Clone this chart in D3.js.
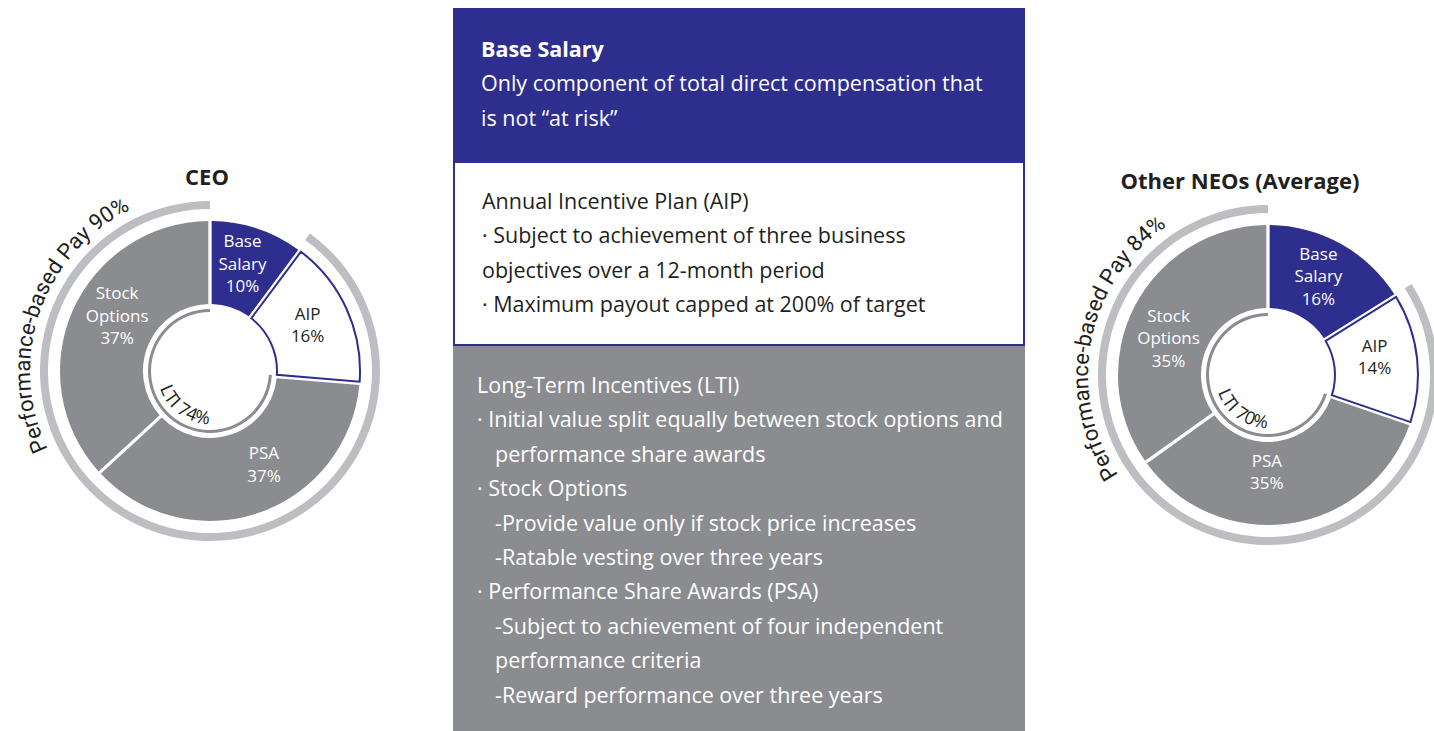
<!DOCTYPE html>
<html>
<head>
<meta charset="utf-8">
<script src="https://cdn.jsdelivr.net/npm/d3@7"></script>
<style>
  body { margin: 0; background: #fff; }
  svg text { font-family: "Open Sans", "Noto Sans", sans-serif; }
</style>
</head>
<body>
<script>
// ---- data ----
const components = ['Base Salary', 'AIP', 'PSA', 'Stock Options']
const ceoValues = [10, 16, 37, 37]
const neoValues = [16, 14, 35, 35]
const perfPay = [90, 84]
const ltiShare = [74, 70]
const titles = ['CEO', 'Other NEOs (Average)']

const salaryLines = [
  ['Base Salary', 0, true],
  ['Only component of total direct compensation that', 0],
  ['is not \u201cat risk\u201d', 0]
]
const aipLines = [
  ['Annual Incentive Plan (AIP)', 0],
  ['\u00b7 Subject to achievement of three business', 0],
  ['objectives over a 12-month period', 0],
  ['\u00b7 Maximum payout capped at 200% of target', 0]
]
const ltiLines = [
  ['Long-Term Incentives (LTI)', 0],
  ['\u00b7 Initial value split equally between stock options and', 0],
  ['performance share awards', 1],
  ['\u00b7 Stock Options', 0],
  ['-Provide value only if stock price increases', 1],
  ['-Ratable vesting over three years', 1],
  ['\u00b7 Performance Share Awards (PSA)', 0],
  ['-Subject to achievement of four independent', 1],
  ['performance criteria', 1],
  ['-Reward performance over three years', 1]
]

// ---- style / layout ----
const navy = '#2e2e8f'
const gray = '#8b8c90'
const lightGray = '#bdbec1'
const ink = '#231f20'
const width = 1434
const height = 731

const radius = { inner: 67, outer: 150, ring: 166, ringW: 8, lti: 60.5, ltiW: 3, label: 108 }
const fills = [navy, '#fff', gray, gray]
const labelColors = ['#fff', ink, '#fff', '#fff']
// small hand nudges of the slice labels (degrees, px) so they sit like the original
const labelNudge = [
  [[-1.5, 4], [-1, 0], [-11, 0], [7, 0]],
  [[-2, 3], [-3, 0], [9, -11], [-7, -2]]
]

const svg = d3.select('body').append('svg')
  .attr('width', width)
  .attr('height', height)

const angle = d3.scaleLinear().domain([0, 100]).range([0, 2 * Math.PI])
const rad = deg => deg * Math.PI / 180

function drawDonut(i, values, cx, cy, titleX, perfCenter) {
  const g = svg.append('g').attr('transform', `translate(${cx}, ${cy})`)

  const pie = d3.pie().sort(null).value(d => d).padAngle(0.02)
  const arcs = pie(values)
  const arc = d3.arc().innerRadius(radius.inner).outerRadius(radius.outer)

  g.selectAll('path.slice')
    .data(arcs)
    .join('path')
    .attr('class', 'slice')
    .attr('d', arc)
    .attr('fill', (d, j) => fills[j])
    .attr('stroke', (d, j) => j === 1 ? navy : 'none')
    .attr('stroke-width', 2)

  // slice labels
  arcs.forEach((d, j) => {
    const [da, dr] = labelNudge[i][j]
    const a = (d.startAngle + d.endAngle) / 2 + rad(da)
    const r = radius.label + dr
    const x = r * Math.sin(a)
    const y = -r * Math.cos(a)
    const lines = components[j].split(' ').concat([values[j] + '%'])
    const t = g.append('text')
      .attr('text-anchor', 'middle')
      .attr('fill', labelColors[j])
      .attr('font-size', 17)
    lines.forEach((l, k) => {
      t.append('tspan')
        .attr('x', x)
        .attr('y', y + (k - (lines.length - 1) / 2) * 22.5 + 6)
        .text(l)
    })
  })

  // performance-based ring
  g.append('path')
    .attr('d', d3.arc()
      .innerRadius(radius.ring - radius.ringW / 2)
      .outerRadius(radius.ring + radius.ringW / 2)
      .startAngle(angle(100 - perfPay[i]))
      .endAngle(angle(100))())
    .attr('fill', lightGray)

  // LTI ring
  g.append('path')
    .attr('d', d3.arc()
      .innerRadius(radius.lti - radius.ltiW / 2)
      .outerRadius(radius.lti + radius.ltiW / 2)
      .startAngle(angle(100 - ltiShare[i]))
      .endAngle(angle(100))())
    .attr('fill', gray)

  // curved captions
  const perfPath = d3.path()
  perfPath.arc(0, 0, 180, rad(perfCenter - 80 - 90), rad(perfCenter + 80 - 90), false)
  g.append('path').attr('id', 'perf' + i).attr('d', perfPath.toString()).attr('fill', 'none')
  g.append('text')
    .attr('font-size', 22)
    .attr('fill', ink)
    .style('font-family', 'Roboto, sans-serif')
    .append('textPath')
    .attr('href', '#perf' + i)
    .attr('startOffset', '50%')
    .attr('text-anchor', 'middle')
    .text(`Performance-based Pay ${perfPay[i]}%`)

  const ltiPath = d3.path()
  ltiPath.arc(0, 0, 53, rad(251 - 90), rad(90 - 90), true)
  g.append('path').attr('id', 'lti' + i).attr('d', ltiPath.toString()).attr('fill', 'none')
  g.append('text')
    .attr('font-size', 18)
    .attr('fill', ink)
    .append('textPath')
    .attr('href', '#lti' + i)
    .attr('startOffset', 0)
    .text(`LTI ${ltiShare[i]}%`)

  svg.append('text')
    .attr('x', titleX)
    .attr('y', cy - 186)
    .attr('text-anchor', 'middle')
    .attr('font-size', 22)
    .attr('font-weight', 700)
    .attr('fill', ink)
    .text(titles[i])
}

drawDonut(0, ceoValues, 210, 371, 207, 289)
drawDonut(1, neoValues, 1268, 375, 1240, 281)

// ---- centre description box ----
const box = { x: 453, w: 572 }
svg.append('rect')
  .attr('x', box.x).attr('y', 8).attr('width', box.w).attr('height', 154)
  .attr('fill', navy)
svg.append('rect')
  .attr('x', box.x).attr('y', 345).attr('width', box.w).attr('height', height - 345)
  .attr('fill', gray)
svg.append('rect')
  .attr('x', box.x + 1).attr('y', 162).attr('width', box.w - 2).attr('height', 183)
  .attr('fill', '#fff')
  .attr('stroke', navy)
  .attr('stroke-width', 2)

function drawLines(lines, x, y0, color, indent) {
  svg.append('g').selectAll('text')
    .data(lines)
    .join('text')
    .attr('x', d => x + d[1] * indent)
    .attr('y', (d, k) => y0 + k * 34.4)
    .attr('fill', color)
    .attr('font-size', 21.5)
    .attr('font-weight', d => d[2] ? 700 : 400)
    .text(d => d[0])
}

drawLines(salaryLines, 481, 57, '#fff', 0)
drawLines(aipLines, 482, 209, ink, 0)
drawLines(ltiLines, 477, 393, '#fff', 18)
</script>
</body>
</html>
